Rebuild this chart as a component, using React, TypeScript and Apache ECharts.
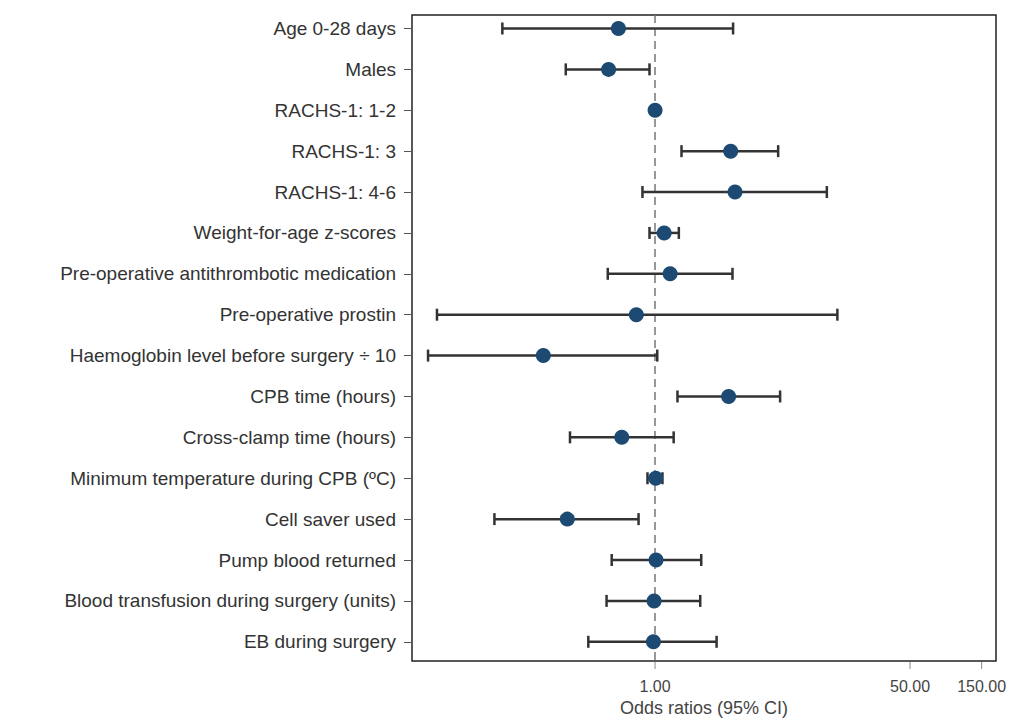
import React, { useEffect, useRef } from "react";
import * as echarts from "echarts";

const categories = [
  "Age 0-28 days",
  "Males",
  "RACHS-1: 1-2",
  "RACHS-1: 3",
  "RACHS-1: 4-6",
  "Weight-for-age z-scores",
  "Pre-operative antithrombotic medication",
  "Pre-operative prostin",
  "Haemoglobin level before surgery ÷ 10",
  "CPB time (hours)",
  "Cross-clamp time (hours)",
  "Minimum temperature during CPB (ºC)",
  "Cell saver used",
  "Pump blood returned",
  "Blood transfusion during surgery (units)",
  "EB during surgery",
];

const oddsRatio = [0.57, 0.49, 1.0, 3.19, 3.41, 1.15, 1.26, 0.75, 0.18, 3.09, 0.6, 1.01, 0.26, 1.015, 0.985, 0.975];
const lowerCI = [0.096, 0.254, 1.0, 1.5, 0.824, 0.918, 0.484, 0.0352, 0.0307, 1.41, 0.271, 0.89, 0.085, 0.514, 0.475, 0.359];
const upperCI = [3.31, 0.918, 1.0, 6.61, 13.95, 1.44, 3.28, 16.4, 1.034, 6.81, 1.33, 1.12, 0.776, 2.03, 2.0, 2.57];

const xTickValues = [1, 50, 150];
const xMin = 0.024;
const xMax = 187;

export default function App() {
  const ref = useRef<HTMLDivElement>(null);
  useEffect(() => {
    if (!ref.current) return;
    const chart = echarts.init(ref.current, null, { renderer: "svg" });
    const rowIdx = categories.map((_, i) => i);
    const errData = categories.map((_, i) => [lowerCI[i], upperCI[i], i]);
    const ptData = categories.map((_, i) => [oddsRatio[i], i]);
    const tickData = xTickValues.map((v) => [v, 0]);
    const font = "'Liberation Sans', Arial, sans-serif";
    chart.setOption({
      animation: false,
      backgroundColor: "#ffffff",
      textStyle: { fontFamily: font },
      grid: {
        left: 412,
        right: 15,
        top: 15,
        bottom: 60,
        containLabel: false,
        outerBoundsMode: "none",
        show: true,
        borderColor: "#222",
        borderWidth: 1.5,
        backgroundColor: "transparent",
      },
      xAxis: {
        type: "log",
        logBase: 10,
        min: xMin,
        max: xMax,
        axisLine: { show: false },
        splitLine: { show: false },
        axisTick: { show: false },
        axisLabel: {
          customValues: xTickValues,
          formatter: (v: number) => Number(v).toFixed(2),
          fontSize: 16,
          color: "#444",
          margin: 17,
          fontFamily: font,
        },
        name: "Odds ratios (95% CI)",
        nameLocation: "middle",
        nameGap: 36,
        nameTextStyle: { fontSize: 18, color: "#444", fontFamily: font },
      },
      yAxis: {
        type: "value",
        inverse: true,
        min: -0.33,
        max: 15.47,
        splitLine: { show: false },
        axisLine: { show: false },
        axisTick: {
          show: true,
          customValues: rowIdx,
          length: 8,
          lineStyle: { color: "#555", width: 1 },
        },
        axisLabel: {
          customValues: rowIdx,
          formatter: (v: number) => categories[Math.round(v)] ?? "",
          fontSize: 19,
          color: "#333",
          margin: 16,
          fontFamily: font,
        },
      },
      series: [
        {
          type: "custom",
          name: "xticks",
          data: tickData,
          encode: { x: 0, y: 1 },
          clip: false,
          silent: true,
          renderItem: (params: any, api: any) => {
            const p = api.coord([api.value(0), api.value(1)]);
            const cs = params.coordSys;
            const yb = cs.y + cs.height;
            return {
              type: "line",
              shape: { x1: p[0], y1: yb + 1, x2: p[0], y2: yb + 8 },
              style: { stroke: "#888", lineWidth: 1 },
            };
          },
        },
        {
          type: "custom",
          name: "CI",
          data: errData,
          encode: { x: [0, 1], y: 2 },
          z: 2,
          renderItem: (params: any, api: any) => {
            const lo = api.value(0);
            const hi = api.value(1);
            const y = api.value(2);
            if (lo === hi) return { type: "group", children: [] };
            const p1 = api.coord([lo, y]);
            const p2 = api.coord([hi, y]);
            const cap = 6;
            const style = { stroke: "#333", lineWidth: 2.5 };
            return {
              type: "group",
              children: [
                { type: "line", shape: { x1: p1[0], y1: p1[1], x2: p2[0], y2: p2[1] }, style },
                { type: "line", shape: { x1: p1[0], y1: p1[1] - cap, x2: p1[0], y2: p1[1] + cap }, style },
                { type: "line", shape: { x1: p2[0], y1: p2[1] - cap, x2: p2[0], y2: p2[1] + cap }, style },
              ],
            };
          },
        },
        {
          type: "scatter",
          name: "OR",
          data: ptData,
          symbol: "circle",
          symbolSize: 15,
          z: 3,
          itemStyle: { color: "#1c4a72", opacity: 1 },
          markLine: {
            silent: true,
            symbol: "none",
            label: { show: false },
            lineStyle: { type: [8, 5], color: "#777", width: 1.5 },
            data: [{ xAxis: 1 }],
            z: 1,
          },
        },
      ],
    });
    return () => chart.dispose();
  }, []);
  return (
    <div
      ref={ref}
      style={{ position: "fixed", left: 0, top: 0, width: 1011, height: 721, background: "#fff" }}
    />
  );
}
